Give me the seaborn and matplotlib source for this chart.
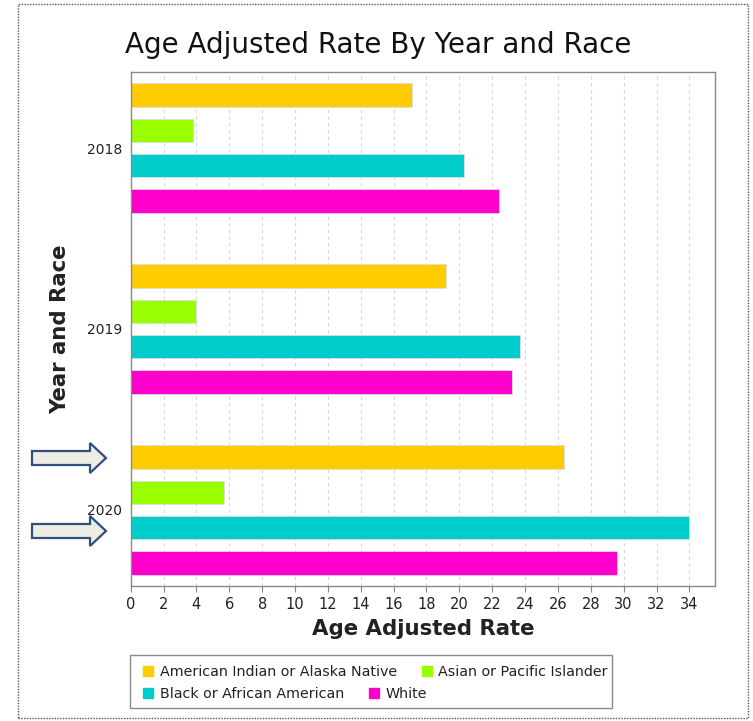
import matplotlib
matplotlib.use("Agg")
import matplotlib.pyplot as plt
from matplotlib.patches import Rectangle, Polygon
from matplotlib.lines import Line2D
import seaborn as sns
import pandas as pd

# Age adjusted rates by year and race
years = ["2018", "2019", "2020"]
races = [
    "American Indian or Alaska Native",
    "Asian or Pacific Islander",
    "Black or African American",
    "White",
]
aian_rate = [17.1, 19.2, 26.4]
api_rate = [3.8, 4.0, 5.7]
black_rate = [20.3, 23.7, 34.0]
white_rate = [22.4, 23.2, 29.6]
race_colors = ["#FFCC00", "#99FF00", "#00CCCC", "#FF00CC"]
x_ticks = list(range(0, 35, 2))

rates = [aian_rate, api_rate, black_rate, white_rate]
rows = []
for race, vals in zip(races, rates):
    for yr, v in zip(years, vals):
        rows.append({"Year": yr, "Race": race, "Rate": v})
df = pd.DataFrame(rows)

sns.set_style("white")
plt.rcParams["font.family"] = ["DejaVu Sans"]

W, H = 753, 721
fig = plt.figure(figsize=(W / 100, H / 100), dpi=100)
fig.patch.set_facecolor("white")


def fx(px):
    return px / W


def fy(py):
    return 1 - py / H


ax = fig.add_axes([fx(130.7), fy(586), fx(715) - fx(130.7), fy(72) - fy(586)])

sns.barplot(
    data=df, y="Year", x="Rate", hue="Race", orient="h",
    order=years, hue_order=races, palette=race_colors,
    width=0.78, gap=0.33, saturation=1, ax=ax,
    linewidth=0.6, edgecolor="#dddddd", legend=False,
)

ax.set_xlim(0, 35.56)
ax.set_ylim(2.42, -0.42)
ax.set_xticks(x_ticks)
ax.set_xticklabels([str(t) for t in x_ticks], fontsize=10.5, color="#222222")
ax.set_yticks(range(len(years)))
ax.set_yticklabels(years, fontsize=10, color="#222222")
ax.tick_params(axis="x", length=4, width=0.8, color="#888888", pad=4, direction="out", bottom=True)
ax.tick_params(axis="y", length=0, pad=6)
ax.set_axisbelow(True)
ax.xaxis.grid(True, linestyle=(0, (3, 3)), color="#d8d8d8", linewidth=0.8)
ax.yaxis.grid(False)
for sp in ax.spines.values():
    sp.set_color("#8a8a8a")
    sp.set_linewidth(1.0)

ax.set_xlabel("Age Adjusted Rate", fontsize=15.3, fontweight="bold", color="#222222", labelpad=5)
ax.set_ylabel("")
fig.text(fx(60), fy(329), "Year and Race", rotation=90, ha="center", va="center",
         fontsize=15.3, fontweight="bold", color="#222222")

fig.text(fx(378), fy(45), "Age Adjusted Rate By Year and Race", ha="center", va="center",
         fontsize=20, color="#111111")

# legend rows in a framed box below the axis title
handles = [Line2D([], [], marker="s", linestyle="none", markersize=6.5,
                  markerfacecolor=c, markeredgecolor=c) for c in race_colors]
leg_kw = dict(frameon=False, loc="center left", ncol=2, fontsize=10.3,
              handletextpad=0.3, columnspacing=1.6, handlelength=1.0,
              borderpad=0, borderaxespad=0)
leg1 = fig.legend(handles[:2], races[:2], bbox_to_anchor=(fx(141), fy(672)), **leg_kw)
leg2 = fig.legend(handles[2:], races[2:], bbox_to_anchor=(fx(141), fy(694)), **leg_kw)
for lg in (leg1, leg2):
    for t in lg.get_texts():
        t.set_color("#222222")
fig.add_artist(Rectangle((fx(130), fy(708)), fx(612) - fx(130), fy(655) - fy(708),
                         transform=fig.transFigure, fill=False, ec="#8a8a8a", lw=1.0))

# outer dotted frame
fig.add_artist(Rectangle((fx(18), fy(718)), fx(748) - fx(18), fy(4) - fy(718),
                         transform=fig.transFigure, fill=False, ec="#555555",
                         lw=1.0, linestyle=(0, (1, 1))))


# block arrows pointing at the 2020 bars
def block_arrow(cy):
    pts = [(32, cy - 7), (90, cy - 7), (90, cy - 15), (106, cy),
           (90, cy + 15), (90, cy + 7), (32, cy + 7)]
    poly = Polygon([(fx(x), fy(y)) for x, y in pts], closed=True,
                   transform=fig.transFigure, facecolor="#EEEDE3",
                   edgecolor="#2F4F7F", lw=1.6)
    fig.add_artist(poly)


block_arrow(458)
block_arrow(531)

fig.savefig("out.png", dpi=100, facecolor="white")
